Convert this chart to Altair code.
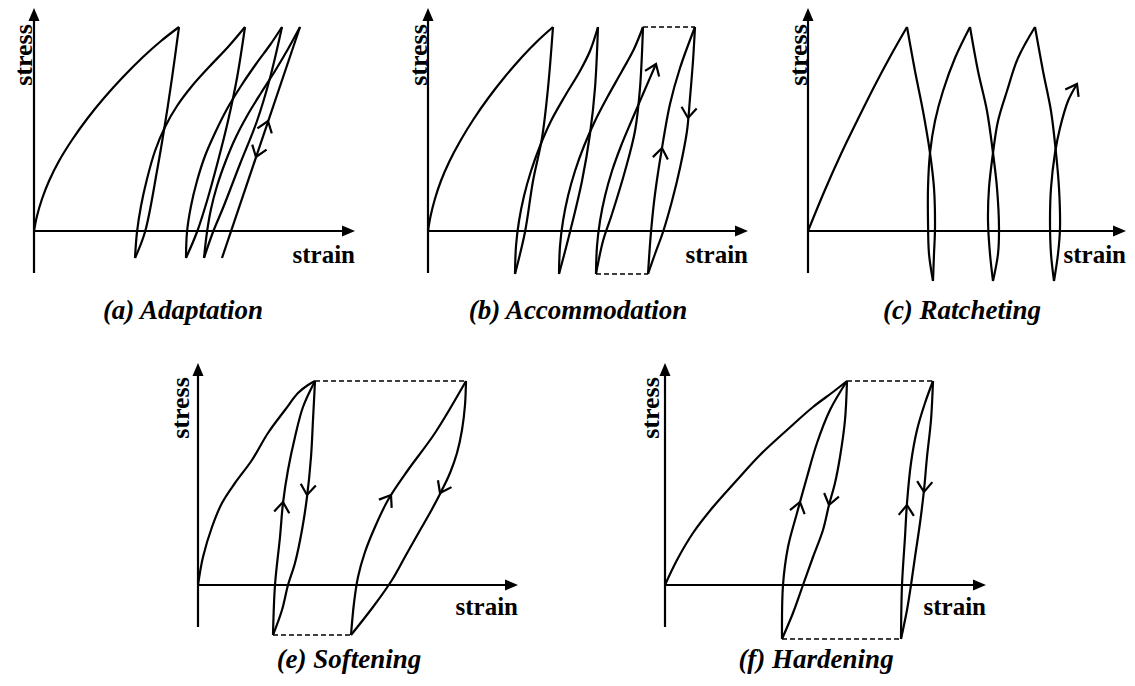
import altair as alt
import pandas as pd

FONT = "Liberation Serif, Times New Roman, serif"
X_LABEL = "strain"
Y_LABEL = "stress"
CAPTIONS = {"a": "(a) Adaptation", "b": "(b) Accommodation", "c": "(c) Ratcheting",
            "e": "(e) Softening", "f": "(f) Hardening"}

# ---------- (a) Adaptation : (strain, stress) points ----------
A_LOAD = [(0, 0), (3, 15), (8, 32), (15, 50), (25, 70), (38, 91), (53, 112), (70, 133), (89, 154), (109, 174), (127, 190), (145, 204)]
A_UNLOAD1 = [(145, 204), (138, 153), (131, 107), (123, 60), (111, -1), (101, -27)]
A_RELOAD1 = [(101, -27), (103, -1), (107, 25), (113, 52), (121, 80), (131, 104), (143, 125), (158, 145), (176, 165), (194, 184), (211, 204)]
A_UNLOAD2 = [(211, 204), (203, 153), (194, 110), (184, 70), (173, 30), (163, -1), (152, -27)]
A_RELOAD2 = [(152, -27), (153, -1), (157, 25), (163, 50), (171, 75), (181, 98), (193, 122), (207, 145), (222, 167), (236, 186), (248, 204)]
A_UNLOAD3 = [(248, 204), (236, 153), (223, 110), (206, 67), (189, 23), (179, -1), (170, -27)]
A_RELOAD3 = [(170, -27), (173, -1), (177, 22), (183, 45), (191, 68), (201, 92), (213, 115), (227, 138), (241, 160), (254, 182), (266, 204)]
A_ELASTIC = [(188, -27), (266, 204)]
A_DASHED = []
A_CHEVRONS = [(234, 110, 19), (222, 74, 199)]

# ---------- (b) Accommodation ----------
B_LOAD = [(0, 0), (2.6, 15), (6.9, 32), (12.9, 50), (21.6, 70), (32.8, 91), (45.7, 112), (60.3, 133), (76.7, 154), (94, 174), (109.5, 190), (125, 204)]
B_UNLOAD1 = [(125, 204), (120, 143), (114, 93), (105, 50), (97, -1), (87, -43)]
B_RELOAD1 = [(87, -43), (88, -15), (91, 10), (96, 35), (103, 60), (112, 85), (123, 110), (137, 135), (152, 160), (162, 180), (170, 204)]
B_UNLOAD2 = [(170, 204), (167, 143), (162, 97), (154, 50), (142, -1), (131, -43)]
B_RELOAD2 = [(131, -43), (132, -15), (135, 10), (140, 35), (147, 60), (156, 85), (167, 110), (180, 135), (194, 160), (206, 182), (215, 204)]
B_UNLOAD3 = [(215, 204), (212, 143), (207, 100), (197, 60), (184, 17), (175, -10), (168, -43)]
B_RELOAD3 = [(168, -43), (169, -15), (172, 10), (177, 35), (184, 60), (193, 85), (203, 109), (215, 137), (228, 167)]
B_UP = [(220, -43), (223, -1), (227, 37), (234, 83), (242, 127), (252, 163), (267, 204)]
B_DOWN = [(267, 204), (265, 170), (262, 133), (259, 100), (252, 63), (244, 30), (235, -1), (227, -23), (220, -43)]
B_DASHED = [((215, 204), (267, 204)), ((168, -43), (220, -43))]
B_CHEVRONS = [(228, 167, 22), (234, 83, 9), (260, 113, 186)]

# ---------- (c) Ratcheting ----------
C_LOAD = [(0, 0), (16.5, 40), (33, 77), (49.5, 111), (66, 144), (82.5, 175), (99, 204)]
C_UNLOAD1 = [(99, 204), (107, 160), (115, 120), (122, 78), (126, 43), (127, 3), (126, -23), (125, -50)]
C_RELOAD1 = [(125, -50), (121, -23), (120, 10), (120, 43), (122, 78), (127, 110), (135, 140), (147, 173), (162, 204)]
C_UNLOAD2 = [(162, 204), (170, 160), (179, 120), (185, 78), (189, 43), (191, 3), (190, -23), (185, -50)]
C_RELOAD2 = [(185, -50), (182, -23), (180, 10), (181, 43), (185, 78), (190, 110), (199, 140), (210, 173), (227, 204)]
C_UNLOAD3 = [(227, 204), (235, 160), (243, 120), (248, 78), (251, 43), (252, 3), (250, -23), (246, -50)]
C_RELOAD3 = [(246, -50), (243, -23), (242, 10), (243, 43), (247, 78), (252, 103), (260, 130), (269, 147)]
C_DASHED = []
C_CHEVRONS = [(269, 147, 29)]

# ---------- (e) Softening ----------
E_LOAD = [(0, 0), (5, 28), (14, 58), (24, 82), (37, 102), (54, 125), (70, 152), (87, 175), (100, 192), (110, 200), (117, 204)]
E_DOWN1 = [(117, 204), (115, 165), (113, 128), (109, 88), (104, 55), (97, 22), (90, 0), (84, -25), (75, -50)]
E_UP1 = [(75, -50), (77, 0), (82, 48), (85, 82), (90, 115), (97, 148), (105, 178), (117, 204)]
E_UP2 = [(153, -50), (156, -18), (160, 8), (167, 33), (177, 58), (190, 85), (210, 115), (237, 152), (268, 204)]
E_DOWN2 = [(268, 204), (267, 180), (264, 155), (259, 132), (252, 112), (243, 93), (233, 74), (221, 53), (208, 30), (194, 5), (175, -22), (153, -50)]
E_DASHED = [((117, 204), (268, 204)), ((75, -50), (153, -50))]
E_CHEVRONS = [(85, 83, 7), (109, 90, 187), (193, 90, 33), (242, 92, 207)]

# ---------- (f) Hardening ----------
F_LOAD = [(0, 0), (12, 25), (28, 52), (48, 78), (72, 105), (95, 130), (122, 155), (148, 178), (168, 193), (182, 204)]
F_DOWN1 = [(182, 204), (180, 165), (175, 128), (170, 102), (164, 80), (158, 55), (148, 28), (138, 0), (128, -28), (117, -54)]
F_UP1 = [(117, -54), (118, 0), (123, 38), (132, 72), (142, 108), (152, 142), (165, 175), (182, 204)]
F_UP2 = [(236, -54), (237, 0), (240, 48), (242, 82), (246, 122), (252, 155), (260, 182), (268, 204)]
F_DOWN2 = [(268, 204), (266, 165), (262, 128), (259, 95), (255, 62), (250, 28), (246, 0), (242, -25), (236, -54)]
F_DASHED = [((182, 204), (268, 204)), ((117, -54), (236, -54))]
F_CHEVRONS = [(135, 83, 15), (164, 80, 194), (242, 80, 4), (259, 93, 184)]

PANELS = {
    "a": [A_LOAD, A_UNLOAD1, A_RELOAD1, A_UNLOAD2, A_RELOAD2, A_UNLOAD3, A_RELOAD3, A_ELASTIC],
    "b": [B_LOAD, B_UNLOAD1, B_RELOAD1, B_UNLOAD2, B_RELOAD2, B_UNLOAD3, B_RELOAD3, B_UP, B_DOWN],
    "c": [C_LOAD, C_UNLOAD1, C_RELOAD1, C_UNLOAD2, C_RELOAD2, C_UNLOAD3, C_RELOAD3],
    "e": [E_LOAD, E_DOWN1, E_UP1, E_UP2, E_DOWN2],
    "f": [F_LOAD, F_DOWN1, F_UP1, F_UP2, F_DOWN2],
}
DASHED = {"a": A_DASHED, "b": B_DASHED, "c": C_DASHED, "e": E_DASHED, "f": F_DASHED}
CHEVRONS = {"a": A_CHEVRONS, "b": B_CHEVRONS, "c": C_CHEVRONS, "e": E_CHEVRONS, "f": F_CHEVRONS}

# layout (positions / sizes only)
LAYOUT = {
    "a": dict(xdom=[-26, 369], ydom=[-95, 223], w=395, h=318, xtip=321, ytip=223, ybot=-42,
              stress=(-2, 176), strain=(321, -32), cap=(149, -88)),
    "b": dict(xdom=[-25, 355], ydom=[-95, 223], w=380, h=318, xtip=320, ytip=223, ybot=-42,
              stress=(-1, 176), strain=(320, -32), cap=(150, -88)),
    "c": dict(xdom=[-25, 319], ydom=[-95, 223], w=344, h=318, xtip=318, ytip=223, ybot=-42,
              stress=(-1, 176), strain=(318, -32), cap=(154, -88)),
    "e": dict(xdom=[-190, 402], ydom=[-89, 259], w=592, h=348, xtip=320, ytip=222, ybot=-42,
              stress=(-9, 177), strain=(320, -30), cap=(151, -83)),
    "f": dict(xdom=[-65, 462], ydom=[-89, 259], w=527, h=348, xtip=321, ytip=222, ybot=-42,
              stress=(-6, 177), strain=(321, -30), cap=(151, -83)),
}

TRI = "M0,-1L0.85,1L-0.85,1Z"
CHEV = "M-0.8,1.1L0,0L0.8,1.1"
LW = 2.2


def panel(key):
    L = LAYOUT[key]
    xs = alt.Scale(domain=L["xdom"], nice=False, zero=False)
    ys = alt.Scale(domain=L["ydom"], nice=False, zero=False)

    def X(f):
        return alt.X(f, type="quantitative", scale=xs, axis=None)

    def Y(f):
        return alt.Y(f, type="quantitative", scale=ys, axis=None)

    rows = []
    for k, seg in enumerate(PANELS[key]):
        for i, (x, y) in enumerate(seg):
            rows.append({"seg": k, "i": i, "x": x, "y": y})
    curves = alt.Chart(pd.DataFrame(rows)).mark_line(
        color="black", strokeWidth=LW, interpolate="catmull-rom", strokeJoin="miter"
    ).encode(x=X("x"), y=Y("y"), detail="seg:N", order="i:Q")

    axes_df = pd.DataFrame([
        {"x": 0, "y": 0, "x2": L["xtip"] - 8, "y2": 0},
        {"x": 0, "y": L["ybot"], "x2": 0, "y2": L["ytip"] - 8},
    ])
    axes = alt.Chart(axes_df).mark_rule(color="black", strokeWidth=LW).encode(
        x=X("x"), y=Y("y"), x2="x2:Q", y2="y2:Q")

    heads_df = pd.DataFrame([
        {"x": L["xtip"] - 6.5, "y": 0, "a": 90},
        {"x": 0, "y": L["ytip"] - 6.5, "a": 0},
    ])
    heads = alt.Chart(heads_df).mark_point(
        shape=TRI, filled=True, size=169, color="black", opacity=1, strokeWidth=0
    ).encode(x=X("x"), y=Y("y"), angle=alt.Angle("a:Q", scale=None))

    layers = [axes, heads, curves]

    if DASHED[key]:
        d_df = pd.DataFrame([{"x": p[0], "y": p[1], "x2": q[0], "y2": q[1]} for p, q in DASHED[key]])
        layers.append(alt.Chart(d_df).mark_rule(
            color="black", strokeWidth=1.3, strokeDash=[5, 3]
        ).encode(x=X("x"), y=Y("y"), x2="x2:Q", y2="y2:Q"))

    ch_df = pd.DataFrame([{"x": x, "y": y, "a": a} for x, y, a in CHEVRONS[key]])
    layers.append(alt.Chart(ch_df).mark_point(
        shape=CHEV, filled=False, size=361, color="black", opacity=1, strokeWidth=2.2,
        strokeJoin="miter"
    ).encode(x=X("x"), y=Y("y"), angle=alt.Angle("a:Q", scale=None)))

    sx, sy = L["stress"]
    layers.append(alt.Chart(pd.DataFrame([{"x": sx, "y": sy, "t": Y_LABEL}])).mark_text(
        font=FONT, fontWeight="bold", fontSize=26, angle=270, align="center",
        baseline="alphabetic", color="black"
    ).encode(x=X("x"), y=Y("y"), text="t:N"))

    tx, ty = L["strain"]
    layers.append(alt.Chart(pd.DataFrame([{"x": tx, "y": ty, "t": X_LABEL}])).mark_text(
        font=FONT, fontWeight="bold", fontSize=25, align="right",
        baseline="alphabetic", color="black"
    ).encode(x=X("x"), y=Y("y"), text="t:N"))

    cx, cy = L["cap"]
    layers.append(alt.Chart(pd.DataFrame([{"x": cx, "y": cy, "t": CAPTIONS[key]}])).mark_text(
        font=FONT, fontWeight="bold", fontStyle="italic", fontSize=27, align="center",
        baseline="alphabetic", color="black"
    ).encode(x=X("x"), y=Y("y"), text="t:N"))

    return alt.layer(*layers).properties(width=L["w"], height=L["h"])


top = alt.hconcat(panel("a"), panel("b"), panel("c"), spacing=0, bounds="flush")
bottom = alt.hconcat(panel("e"), panel("f"), spacing=0, bounds="flush")
chart = alt.vconcat(top, bottom, spacing=0).properties(
    padding=0, background="white"
).configure_view(stroke=None)

chart.save("out.html", embed_options={"renderer": "svg", "actions": False})
